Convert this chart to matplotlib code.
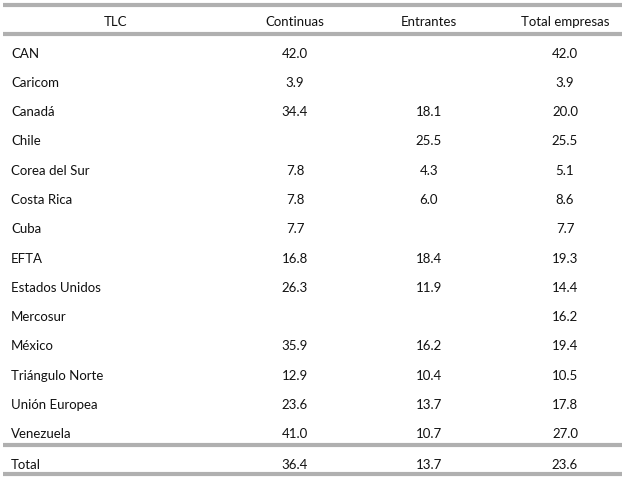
import matplotlib
matplotlib.use("Agg")
import matplotlib.pyplot as plt

# ---- data ----
headers = ["TLC", "Continuas", "Entrantes", "Total empresas"]
tlc = ["CAN", "Caricom", "Canadá", "Chile", "Corea del Sur", "Costa Rica", "Cuba",
       "EFTA", "Estados Unidos", "Mercosur", "México", "Triángulo Norte",
       "Unión Europea", "Venezuela"]
continuas = [42.0, 3.9, 34.4, None, 7.8, 7.8, 7.7, 16.8, 26.3, None, 35.9, 12.9, 23.6, 41.0]
entrantes = [None, None, 18.1, 25.5, 4.3, 6.0, None, 18.4, 11.9, None, 16.2, 10.4, 13.7, 10.7]
total_empresas = [42.0, 3.9, 20.0, 25.5, 5.1, 8.6, 7.7, 19.3, 14.4, 16.2, 19.4, 10.5, 17.8, 27.0]
total_label = "Total"
total_row = [36.4, 13.7, 23.6]

# ---- layout ----
W, H = 624, 485
fig = plt.figure(figsize=(W / 100, H / 100), dpi=100)
ax = fig.add_axes([0, 0, 1, 1])
ax.set_xlim(0, W)
ax.set_ylim(H, 0)
ax.axis("off")

FONT = "Lato"
FS = 9.5
TXT = "#111111"
LINE = "#b0b0b0"
LW = 3.0

x_label = 11
x_tlc_head = 115
col_x = [295, 429, 565]
y_head = 22.5
y_first = 53.5
dy = 29.3
y_total = 465
line_x0, line_x1 = 3, 622
line_ys = [6, 35, 446, 475]

for y in line_ys:
    ax.plot([line_x0, line_x1], [y, y], color=LINE, lw=LW, solid_capstyle="butt")

kw = dict(fontfamily=FONT, fontsize=FS, color=TXT, va="center")
ax.text(x_tlc_head, y_head, headers[0], ha="center", **kw)
for cx, h in zip(col_x, headers[1:]):
    ax.text(cx, y_head, h, ha="center", **kw)

def fmt(v):
    return "" if v is None else f"{v:.1f}"

for i, name in enumerate(tlc):
    y = y_first + i * dy
    ax.text(x_label, y, name, ha="left", **kw)
    for cx, col in zip(col_x, [continuas, entrantes, total_empresas]):
        s = fmt(col[i])
        if s:
            ax.text(cx, y, s, ha="center", **kw)

ax.text(x_label, y_total, total_label, ha="left", **kw)
for cx, v in zip(col_x, total_row):
    ax.text(cx, y_total, fmt(v), ha="center", **kw)

fig.savefig("out.png", dpi=100, facecolor="white")
